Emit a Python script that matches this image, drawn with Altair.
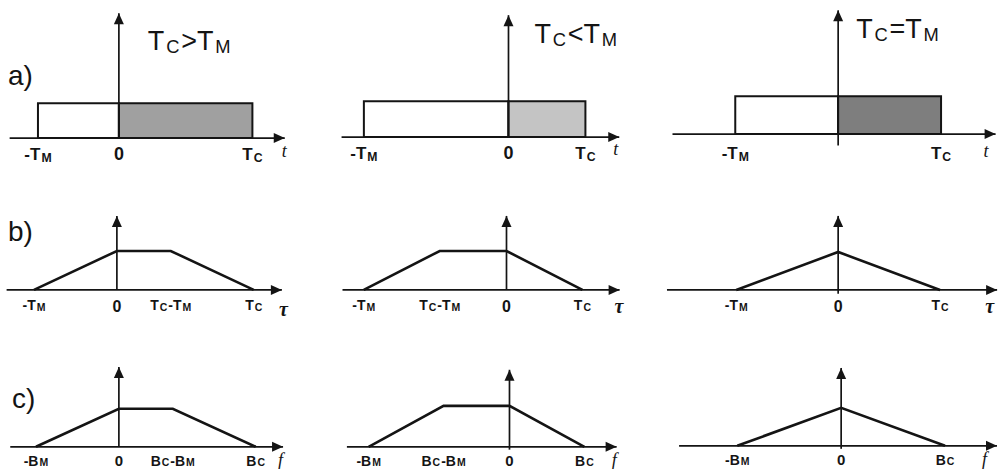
import altair as alt
import pandas as pd

# ---------------------------------------------------------------------------
# Three cases: chirp duration T_C longer than, shorter than, equal to T_M
# (durations in units of the shorter one; bandwidths follow the same ratio)
# ---------------------------------------------------------------------------
CASE_TITLES = ["T_C>T_M", "T_C<T_M", "T_C=T_M"]
T_M = [1.0, 1.88, 1.0]
T_C = [1.65, 1.0, 1.0]
B_M = [1.0, 1.88, 1.0]
B_C = [1.65, 1.0, 1.0]
PULSE_LEVEL = [1.0, 1.0, 1.0]
CORR_PEAK = [1.0, 1.0, 1.0]
SPEC_PEAK = [1.0, 1.0, 1.0]

TIME_TICKS = [["-T_M", "0", "T_C"], ["-T_M", "0", "T_C"], ["-T_M", "T_C"]]
LAG_TICKS = [["-T_M", "0", "T_C-T_M", "T_C"],
             ["-T_M", "T_C-T_M", "0", "T_C"],
             ["-T_M", "0", "T_C"]]
FREQ_TICKS = [["-B_M", "0", "B_C-B_M", "B_C"],
              ["-B_M", "B_C-B_M", "0", "B_C"],
              ["-B_M", "0", "B_C"]]
ROW_TAGS = ["a)", "b)", "c)"]
VAR_NAMES = ["t", "\u03c4", "f"]

# ---------------------------------------------------------------------------
# Styling / layout
# ---------------------------------------------------------------------------
INK = "#141414"
SHADES = ["#a0a0a0", "#c4c4c4", "#7e7e7e"]
SANS = "Liberation Sans"
SERIF = "Liberation Serif"

COL_W = [332, 332, 334]
ROW_H = [180, 150, 139]

# zx/by: pixel position of the origin inside the panel, kx/ky: pixels per unit
# ax: horizontal axis extent, ay: vertical axis extent (units)
# lab: label baseline below axis (px), var: axis-name offset (px)
LAYOUT = [
    [dict(zx=119, kx=81, by=138, ky=35, ax=(-1.35, 2.05), ay=(0, 3.57), lab=22, var=(0, 19)),
     dict(zx=177, kx=77, by=137, ky=36, ax=(-2.17, 1.44), ay=(0, 3.39), lab=22, var=(-3, 18)),
     dict(zx=175, kx=103, by=134, ky=38, ax=(-1.61, 1.53), ay=(-0.3, 3.26), lab=25, var=(-9, 23))],
    [dict(zx=117, kx=83, by=110, ky=39, ax=(-1.33, 1.99), ay=(0, 1.9), lab=20, var=(0, 26)),
     dict(zx=175, kx=76, by=110, ky=39, ax=(-2.16, 1.49), ay=(0, 1.9), lab=20, var=(-2, 23)),
     dict(zx=175, kx=102, by=110, ky=38, ax=(-1.68, 1.56), ay=(-0.1, 1.95), lab=20, var=(-9, 23))],
    [dict(zx=119, kx=83, by=117, ky=38, ax=(-1.31, 1.98), ay=(0, 2.1), lab=19, var=(-2, 19)),
     dict(zx=178, kx=75, by=117, ky=41, ax=(-2.17, 1.43), ay=(-0.07, 1.88), lab=19, var=(-2, 19)),
     dict(zx=178, kx=104, by=116, ky=38, ax=(-1.56, 1.5), ay=(-0.08, 2.05), lab=19, var=(-12, 19))],
]
# per row: symbolic label size, "0" label size, subscript ratio, subscript drop
TICK_STYLE = [(17, 18, 0.72, 0.12), (14, 16, 0.75, 0.08), (14, 15, 0.75, 0.05)]
TITLE_POS = [(148, 50), (203, 43), (193, 38)]   # left edge, baseline (px)
TITLE_FS = 27
TAG_POS = [(8, 85), (8, 61), (12, 78)]
TAG_FS = 28
VAR_FS = [18, 20, 18]

# Arial / Liberation Sans advance widths (1/1000 em)
W_REG = {"T": 611, "C": 722, "M": 833, "B": 667, "-": 333, "0": 556,
         ">": 584, "<": 584, "=": 584}
W_BOLD = dict(W_REG, B=722)

RIGHT_HEAD = "M0,0L-2.2,-1L-2.2,1Z"
UP_HEAD = "M0,0L-1,2.2L1,2.2Z"


def split_label(label, fs, bold, center=True, sub_ratio=0.7, drop=0.14, gap=0.0):
    """Break 'T_C-T_M' into runs; '_' marks a subscript character."""
    widths = W_BOLD if bold else W_REG
    runs = []
    i = 0
    while i < len(label):
        if label[i] == "_":
            runs.append([label[i + 1], True])
            i += 2
        else:
            if runs and not runs[-1][1]:
                runs[-1][0] += label[i]
            else:
                runs.append([label[i], False])
            i += 1
    out = []
    pos = 0.0
    for text, sub in runs:
        size = fs * sub_ratio if sub else fs
        w = sum(widths.get(c, 556) for c in text) / 1000.0 * size
        out.append(dict(t=text, dx=pos, dy=fs * drop if sub else 0.0, fs=size))
        pos += w + gap
    total = pos - gap
    if center:
        for r in out:
            r["dx"] -= total / 2
    return out


def scales(lay, w, h):
    xs = alt.Scale(domain=[-lay["zx"] / lay["kx"], (w - lay["zx"]) / lay["kx"]],
                   nice=False, zero=False)
    ys = alt.Scale(domain=[-(h - lay["by"]) / lay["ky"], lay["by"] / lay["ky"]],
                   nice=False, zero=False)
    return xs, ys


def text_layer(rows, xs, ys, font, weight="normal", style="normal"):
    return alt.Chart(pd.DataFrame(rows)).mark_text(
        align="left", baseline="alphabetic", font=font,
        fontWeight=weight, fontStyle=style, color=INK,
    ).encode(
        x=alt.X("x:Q", scale=xs, axis=None),
        y=alt.Y("y:Q", scale=ys, axis=None),
        text="t:N",
        size=alt.Size("fs:Q", scale=None, legend=None),
    )


def label_rows(label, ux, uy, lay, fs, bold, center=True, **kw):
    rows = []
    for seg in split_label(label, fs, bold, center=center, **kw):
        rows.append(dict(t=seg["t"], fs=seg["fs"],
                         x=ux + seg["dx"] / lay["kx"],
                         y=uy - seg["dy"] / lay["ky"]))
    return rows


def px_to_units(lay, px, py):
    return (px - lay["zx"]) / lay["kx"], (lay["by"] - py) / lay["ky"]


def axes_layers(lay, xs, ys):
    x0, x1 = lay["ax"]
    y0, y1 = lay["ay"]
    hx = alt.Chart(pd.DataFrame([dict(x=x0, x2=x1, y=0.0)])).mark_rule(
        color=INK, strokeWidth=1.7).encode(
        x=alt.X("x:Q", scale=xs, axis=None), x2="x2:Q",
        y=alt.Y("y:Q", scale=ys, axis=None))
    vy = alt.Chart(pd.DataFrame([dict(x=0.0, y=y0, y2=y1)])).mark_rule(
        color=INK, strokeWidth=1.7).encode(
        x=alt.X("x:Q", scale=xs, axis=None),
        y=alt.Y("y:Q", scale=ys, axis=None), y2="y2:Q")
    hh = alt.Chart(pd.DataFrame([dict(x=x1, y=0.0)])).mark_point(
        shape=RIGHT_HEAD, size=100, filled=True, opacity=1, color=INK, strokeWidth=0).encode(
        x=alt.X("x:Q", scale=xs, axis=None), y=alt.Y("y:Q", scale=ys, axis=None))
    vh = alt.Chart(pd.DataFrame([dict(x=0.0, y=y1)])).mark_point(
        shape=UP_HEAD, size=100, filled=True, opacity=1, color=INK, strokeWidth=0).encode(
        x=alt.X("x:Q", scale=xs, axis=None), y=alt.Y("y:Q", scale=ys, axis=None))
    return [hx, vy, hh, vh]


def tick_value(sym, m, c):
    return {"-T_M": -m, "-B_M": -m, "0": 0.0, "T_C": c, "B_C": c,
            "T_C-T_M": c - m, "B_C-B_M": c - m}[sym]


def build_panel(r, k):
    lay = LAYOUT[r][k]
    w, h = COL_W[k], ROW_H[r]
    xs, ys = scales(lay, w, h)
    layers = []

    if r == 0:
        m, c, lvl = T_M[k], T_C[k], PULSE_LEVEL[k]
        rect_df = pd.DataFrame([
            dict(x=-m, x2=0.0, y=0.0, y2=lvl, fill="#ffffff"),
            dict(x=0.0, x2=c, y=0.0, y2=lvl, fill=SHADES[k]),
        ])
        layers.append(alt.Chart(rect_df).mark_rect(stroke=INK, strokeWidth=2).encode(
            x=alt.X("x:Q", scale=xs, axis=None), x2="x2:Q",
            y=alt.Y("y:Q", scale=ys, axis=None), y2="y2:Q",
            fill=alt.Fill("fill:N", scale=None)))
        ticks = TIME_TICKS[k]
    else:
        if r == 1:
            m, c, peak, ticks = T_M[k], T_C[k], CORR_PEAK[k], LAG_TICKS[k]
        else:
            m, c, peak, ticks = B_M[k], B_C[k], SPEC_PEAK[k], FREQ_TICKS[k]

    layers += axes_layers(lay, xs, ys)

    if r > 0:
        # trapezoid (triangle when the two spans are equal)
        verts = [(-m, 0.0), (min(0.0, c - m), peak), (max(0.0, c - m), peak), (c, 0.0)]
        shape_df = pd.DataFrame([dict(i=i, x=vx, y=vy) for i, (vx, vy) in enumerate(verts)])
        layers.append(alt.Chart(shape_df).mark_line(
            color=INK, strokeWidth=2.6, strokeJoin="miter").encode(
            x=alt.X("x:Q", scale=xs, axis=None),
            y=alt.Y("y:Q", scale=ys, axis=None),
            order="i:Q"))

    # tick labels under the axis
    fs_sym, fs_zero, sub_ratio, drop = TICK_STYLE[r]
    rows = []
    for sym in ticks:
        val = tick_value(sym, m, c)
        if sym == "0":
            rows += label_rows("0", val, -(lay["lab"] + (2 if r == 1 else 0)) / lay["ky"],
                               lay, fs_zero, True)
        else:
            rows += label_rows(sym, val, -lay["lab"] / lay["ky"], lay, fs_sym, True,
                               sub_ratio=sub_ratio, drop=drop, gap=1.0)
    layers.append(text_layer(rows, xs, ys, SANS, weight="bold"))

    # axis name at the arrow tip
    vdx, vdy = lay["var"]
    vx = lay["ax"][1] + vdx / lay["kx"]
    vrows = [dict(t=VAR_NAMES[r], fs=VAR_FS[r], x=vx - 3 / lay["kx"], y=-vdy / lay["ky"])]
    layers.append(text_layer(vrows, xs, ys, SERIF, weight="bold" if r == 1 else "normal",
                             style="italic"))

    # case title on the top row
    if r == 0:
        tx, ty = px_to_units(lay, *TITLE_POS[k])
        trows = label_rows(CASE_TITLES[k], tx, ty, lay, TITLE_FS, False,
                           center=False, sub_ratio=0.68, drop=0.1, gap=1.8)
        layers.append(text_layer(trows, xs, ys, SANS))

    # row tag on the left column
    if k == 0:
        gx, gy = px_to_units(lay, *TAG_POS[r])
        layers.append(text_layer([dict(t=ROW_TAGS[r], fs=TAG_FS, x=gx, y=gy)], xs, ys, SANS))

    return alt.layer(*layers).properties(width=w, height=h)


panels = [build_panel(r, k) for r in range(3) for k in range(3)]

chart = alt.concat(*panels, columns=3, spacing=0, bounds="flush").properties(
    padding=0, background="white"
).configure_view(stroke=None)

chart.save("out.html", embed_options={"renderer": "svg", "actions": False})
